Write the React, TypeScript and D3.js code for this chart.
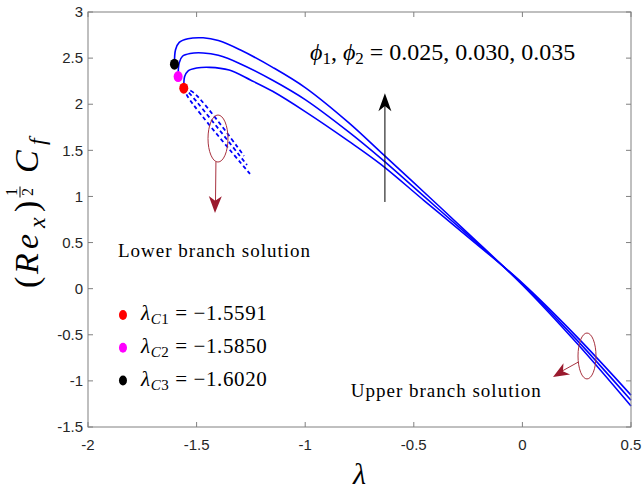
import React from 'react';
import * as d3 from 'd3';

const W = 644, H = 490;
const margin = { top: 12, right: 13, bottom: 63, left: 88 };

const xTicks = [-2, -1.5, -1, -0.5, 0, 0.5];
const xTickLabels = ['-2', '-1.5', '-1', '-0.5', '0', '0.5'];
const yTicks = [-1.5, -1, -0.5, 0, 0.5, 1, 1.5, 2, 2.5, 3];
const yTickLabels = ['-1.5', '-1', '-0.5', '0', '0.5', '1', '1.5', '2', '2.5', '3'];

// upper branch (solid), one array pair per phi
const lamUp025 = [-1.5591, -1.555, -1.54, -1.50, -1.44, -1.35, -1.25, -1.15, -1.0, -0.8, -0.65, -0.45, -0.25, 0, 0.25, 0.5];
const cfUp025 = [2.174, 2.30, 2.36, 2.392, 2.40, 2.37, 2.26, 2.14, 1.92, 1.60, 1.345, 0.95, 0.56, 0.06, -0.52, -1.154];
const lamUp030 = [-1.585, -1.580, -1.565, -1.53, -1.47, -1.40, -1.30, -1.15, -1.0, -0.8, -0.65, -0.45, -0.25, 0, 0.25, 0.5];
const cfUp030 = [2.30, 2.45, 2.52, 2.55, 2.556, 2.53, 2.44, 2.26, 2.05, 1.70, 1.41, 0.995, 0.58, 0.05, -0.555, -1.21];
const lamUp035 = [-1.602, -1.597, -1.58, -1.54, -1.47, -1.40, -1.30, -1.15, -1.0, -0.8, -0.65, -0.45, -0.25, 0, 0.25, 0.5];
const cfUp035 = [2.434, 2.59, 2.67, 2.71, 2.72, 2.69, 2.59, 2.40, 2.18, 1.80, 1.475, 1.04, 0.60, 0.04, -0.59, -1.273];

// lower branch (dashed)
const lamLo025 = [-1.558, -1.5396, -1.2541];
const cfLo025 = [2.176, 2.078, 1.244];
const lamLo030 = [-1.558, -1.5258, -1.268];
const cfLo030 = [2.176, 2.100, 1.341];
const lamLo035 = [-1.558, -1.512, -1.2818];
const cfLo035 = [2.176, 2.122, 1.439];

// critical points
const critNames = ['C1', 'C2', 'C3'];
const critLam = [-1.5591, -1.5850, -1.6020];
const critCf = [2.174, 2.30, 2.434];
const critLabels = ['\u22121.5591', '\u22121.5850', '\u22121.6020'];
const critColors = ['#ff0000', '#ff00ff', '#000000'];

const serif = "'Liberation Serif', 'DejaVu Serif', serif";
const sans = "'Liberation Sans', Arial, sans-serif";

const x = d3.scaleLinear().domain([-2, 0.5]).range([margin.left, W - margin.right]);
const y = d3.scaleLinear().domain([-1.5, 3]).range([H - margin.bottom, margin.top]);

const line = d3.line<[number, number]>()
  .x(d => x(d[0]))
  .y(d => y(d[1]))
  .curve(d3.curveCatmullRom.alpha(0.5));

const zip = (a: number[], b: number[]) => a.map((v, i) => [v, b[i]] as [number, number]);

const upper = [zip(lamUp025, cfUp025), zip(lamUp030, cfUp030), zip(lamUp035, cfUp035)];
const lower = [zip(lamLo025, cfLo025), zip(lamLo030, cfLo030), zip(lamLo035, cfLo035)];

// arrow head: tip at (tx,ty), coming from (fx,fy)
const Head = ({ fx, fy, tx, ty, len, half, fill }: any) => {
  const a = Math.atan2(ty - fy, tx - fx) * 180 / Math.PI;
  return (
    <path
      d={`M0,0 L${-len},${half} L${-len * 0.72},0 L${-len},${-half} Z`}
      transform={`translate(${tx},${ty}) rotate(${a})`}
      fill={fill}
    />
  );
};

const App = () => {
  const [x0, x1] = x.range();
  const [y0, y1] = y.range();
  const tick = 5;
  const annRed = '#a8323f';
  const headRed = '#9a1a2e';

  return (
    <svg width={W} height={H} style={{ position: 'absolute', left: 0, top: 0, background: '#fff' }}>
      <rect width={W} height={H} fill="#fff" />

      {/* curves */}
      {upper.map((d, i) => (
        <path key={'u' + i} d={line(d) || ''} fill="none" stroke="#0000ff" strokeWidth={1.6} />
      ))}
      {lower.map((d, i) => (
        <path key={'l' + i} d={line(d) || ''} fill="none" stroke="#0000ff" strokeWidth={1.8} strokeDasharray="4,3" />
      ))}
      {critLam.map((l, i) => (
        <ellipse key={'c' + i} cx={x(l)} cy={y(critCf[i])} rx={4.5} ry={5.5} fill={critColors[i]} />
      ))}

      {/* axes box + ticks */}
      <rect x={x0} y={y1} width={x1 - x0} height={y0 - y1} fill="none" stroke="#808080" strokeWidth={1} />
      {xTicks.map((t, i) => (
        <g key={'xt' + i}>
          <line x1={x(t)} x2={x(t)} y1={y0} y2={y0 - tick} stroke="#808080" />
          <line x1={x(t)} x2={x(t)} y1={y1} y2={y1 + tick} stroke="#808080" />
          <text x={x(t)} y={y0 + 23} textAnchor="middle" fontFamily={sans} fontSize={15} fill="#262626">{xTickLabels[i]}</text>
        </g>
      ))}
      {yTicks.map((t, i) => (
        <g key={'yt' + i}>
          <line x1={x0} x2={x0 + tick} y1={y(t)} y2={y(t)} stroke="#808080" />
          <line x1={x1} x2={x1 - tick} y1={y(t)} y2={y(t)} stroke="#808080" />
          <text x={x0 - 5} y={y(t)} dy="0.35em" textAnchor="end" fontFamily={sans} fontSize={15} fill="#262626">{yTickLabels[i]}</text>
        </g>
      ))}

      {/* axis labels */}
      <text x={(x0 + x1) / 2} y={484} textAnchor="middle" fontFamily={serif} fontStyle="italic" fontSize={30} fill="#000">λ</text>
      <g transform="translate(38,205) rotate(-90)" fontFamily={serif} fill="#000">
        <text x={-83} y={0} fontSize={34}>(</text>
        <text x={-69} y={0} fontSize={34} fontStyle="italic">R</text>
        <text x={-44} y={0} fontSize={34} fontStyle="italic">e</text>
        <text x={-23} y={7} fontSize={24} fontStyle="italic">x</text>
        <text x={-7} y={0} fontSize={34}>)</text>
        <text x={13} y={-21} fontSize={16} textAnchor="middle">1</text>
        <line x1={7.5} x2={18.5} y1={-18} y2={-18} stroke="#000" strokeWidth={1} />
        <text x={13} y={-5.5} fontSize={16} textAnchor="middle">2</text>
        <text x={32} y={0} fontSize={34} fontStyle="italic">C</text>
        <text x={60} y={7} fontSize={24} fontStyle="italic">f</text>
      </g>

      {/* phi annotation */}
      <text x={x(-0.978)} y={y(2.48)} fontFamily={serif} fontSize={24} fill="#000">
        <tspan fontStyle="italic">{'\u03D5'}</tspan>
        <tspan fontSize={17} dy={4}>1</tspan>
        <tspan dy={-4}>, </tspan>
        <tspan fontStyle="italic">{'\u03D5'}</tspan>
        <tspan fontSize={17} dy={4}>2</tspan>
        <tspan dy={-4}> = 0.025, 0.030, 0.035</tspan>
      </text>
      <line x1={x(-0.633)} x2={x(-0.633)} y1={y(0.94)} y2={y(2.0)} stroke="#000" strokeWidth={1} />
      <Head fx={x(-0.633)} fy={y(0.94)} tx={x(-0.633)} ty={y(2.12)} len={18} half={6.5} fill="#000" />

      {/* lower branch marker */}
      <ellipse cx={x(-1.4015)} cy={y(1.628)} rx={x(-1.4015 + 0.046) - x(-1.4015)} ry={y(1.628) - y(1.628 + 0.255)} fill="none" stroke={annRed} strokeWidth={1} />
      <line x1={x(-1.411)} x2={x(-1.413)} y1={y(1.374)} y2={y(0.95)} stroke={annRed} strokeWidth={1} />
      <Head fx={x(-1.411)} fy={y(1.374)} tx={x(-1.4153)} ty={y(0.82)} len={17} half={6.5} fill={headRed} />
      <text x={x(-1.862)} y={y(0.343)} fontFamily={serif} fontSize={19} letterSpacing={1} fill="#000">Lower branch solution</text>

      {/* upper branch marker */}
      <ellipse cx={x(0.2974)} cy={y(-0.73)} rx={x(0.2974 + 0.0414) - x(0.2974)} ry={y(-0.73) - y(-0.73 + 0.249)} fill="none" stroke={annRed} strokeWidth={1} />
      <line x1={x(0.258)} x2={x(0.17)} y1={y(-0.795)} y2={y(-0.91)} stroke={annRed} strokeWidth={1} />
      <Head fx={x(0.258)} fy={y(-0.795)} tx={x(0.141)} ty={y(-0.958)} len={16} half={6.5} fill={headRed} />
      <text x={x(-0.79)} y={y(-1.18)} fontFamily={serif} fontSize={19} letterSpacing={1} fill="#000">Upper branch solution</text>

      {/* critical value legend */}
      {critNames.map((n, i) => (
        <g key={'lg' + i}>
          <ellipse cx={x(-1.839)} cy={y(-0.286 - i * 0.355)} rx={4} ry={5} fill={critColors[i]} />
          <text x={x(-1.756)} y={y(-0.34 - i * 0.357)} fontFamily={serif} fontSize={21} letterSpacing={0.6} fill="#000">
            <tspan fontStyle="italic">λ</tspan>
            <tspan fontStyle="italic" fontSize={15} dy={4}>{n[0]}</tspan>
            <tspan fontSize={15}>{n[1]}</tspan>
            <tspan dy={-4}> = {critLabels[i]}</tspan>
          </text>
        </g>
      ))}
    </svg>
  );
};

export default App;
